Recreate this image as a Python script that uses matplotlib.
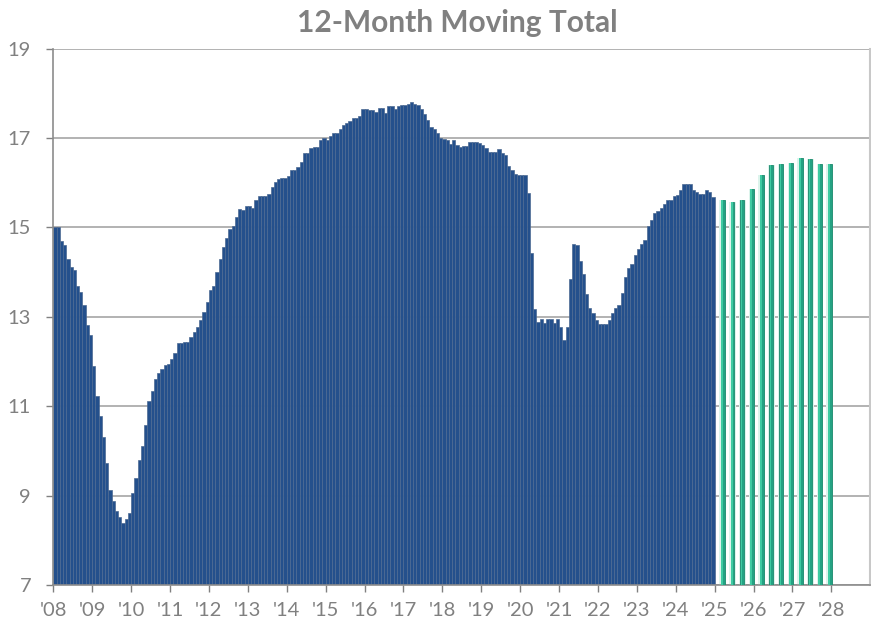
import numpy as np
import pandas as pd
import matplotlib
matplotlib.use("Agg")
import matplotlib.pyplot as plt

# monthly 12-month moving total, Jan 2008 .. Dec 2024
months = pd.period_range("2008-01", "2024-12", freq="M")
moving_total = [
    15.00, 15.00, 14.70, 14.60, 14.29, 14.12, 14.05, 13.68, 13.56, 13.27, 12.82, 12.60,  # 2008
    11.89, 11.22, 10.79, 10.30, 9.72, 9.13, 8.87, 8.65, 8.52, 8.39, 8.47, 8.61,          # 2009
    9.05, 9.39, 9.79, 10.10, 10.57, 11.11, 11.33, 11.61, 11.74, 11.84, 11.92, 11.94,     # 2010
    12.06, 12.20, 12.41, 12.42, 12.44, 12.44, 12.55, 12.66, 12.78, 12.93, 13.11, 13.33,  # 2011
    13.59, 13.68, 14.00, 14.30, 14.56, 14.76, 14.96, 15.02, 15.23, 15.42, 15.39, 15.47,  # 2012
    15.47, 15.44, 15.62, 15.69, 15.71, 15.71, 15.74, 15.90, 16.02, 16.09, 16.10, 16.10,  # 2013
    16.15, 16.28, 16.29, 16.36, 16.46, 16.66, 16.66, 16.77, 16.80, 16.79, 16.96, 16.99,  # 2014
    16.96, 17.04, 17.11, 17.10, 17.20, 17.29, 17.33, 17.37, 17.44, 17.45, 17.48, 17.64,  # 2015
    17.64, 17.62, 17.62, 17.57, 17.67, 17.67, 17.56, 17.71, 17.71, 17.65, 17.71, 17.74,  # 2016
    17.74, 17.76, 17.80, 17.76, 17.74, 17.65, 17.54, 17.39, 17.25, 17.19, 17.11, 17.00,  # 2017
    16.98, 16.95, 16.87, 16.95, 16.85, 16.79, 16.81, 16.83, 16.90, 16.90, 16.90, 16.89,  # 2018
    16.84, 16.78, 16.68, 16.68, 16.68, 16.75, 16.67, 16.61, 16.38, 16.29, 16.20, 16.18,  # 2019
    16.18, 16.18, 15.76, 14.43, 13.17, 12.89, 12.96, 12.86, 12.94, 12.96, 12.86, 12.96,  # 2020
    12.77, 12.47, 12.77, 13.84, 14.62, 14.60, 14.24, 13.96, 13.51, 13.20, 13.09, 12.92,  # 2021
    12.83, 12.83, 12.83, 12.92, 13.08, 13.19, 13.26, 13.54, 13.90, 14.09, 14.17, 14.37,  # 2022
    14.52, 14.62, 14.71, 15.02, 15.16, 15.32, 15.37, 15.44, 15.52, 15.62, 15.62, 15.71,  # 2023
    15.72, 15.84, 15.97, 15.97, 15.97, 15.84, 15.80, 15.74, 15.74, 15.84, 15.78, 15.67,  # 2024
]

# quarterly forecast 2025Q1 .. 2027Q4
quarters = pd.period_range("2025Q1", "2027Q4", freq="Q")
forecast = [15.62, 15.57, 15.62, 15.86, 16.16, 16.39, 16.42, 16.44, 16.55, 16.53, 16.42, 16.41]

year_ticks = list(range(2008, 2029))
year_labels = ["'%02d" % (y % 100) for y in year_ticks]
y_ticks = [7, 9, 11, 13, 15, 17, 19]

# decimal-year positions (centre of month / centre of quarter's last month)
x_month = np.array([p.year + (p.month - 0.5) / 12 for p in months])
x_quarter = np.array([p.qyear + (p.quarter * 3 - 0.5) / 12 for p in quarters])

grey = "#808080"
plt.rcParams["font.family"] = ["Lato", "DejaVu Sans"]

fig = plt.figure(figsize=(8.71, 6.21), dpi=100)
ax = fig.add_axes([0.0612, 0.058, 0.9371, 0.8639])

ax.bar(x_month, np.array(moving_total) - 7, bottom=7, width=1 / 12,
       color="#24508c", edgecolor="#4d6a92", linewidth=0.5, zorder=2)

# forecast bars: soft halo, body, bright left highlight
fc = np.array(forecast) - 7
ax.bar(x_quarter, fc, bottom=7, width=0.17, color="#dcf4ec", linewidth=0, zorder=2)
ax.bar(x_quarter, fc, bottom=7, width=0.10, color="#24a283", edgecolor="#1c8a6d",
       linewidth=0.6, zorder=3)
ax.bar(x_quarter - 0.02, fc, bottom=7, width=0.04, color="#3fcaa2", linewidth=0, zorder=4)

ax.set_xlim(2008, 2028.98)
ax.set_ylim(7, 19)
ax.set_xticks(year_ticks)
ax.set_xticklabels(year_labels)
ax.set_yticks(y_ticks)
ax.tick_params(axis="both", colors=grey, labelsize=14.5, length=5, width=1)
ax.tick_params(axis="y", pad=11)
ax.tick_params(axis="x", pad=7)
ax.grid(axis="y", color="#a6a6a6", linewidth=1.2, zorder=0)
ax.set_axisbelow(True)

for side in ["left", "bottom"]:
    ax.spines[side].set_color("#8c8c8c")
    ax.spines[side].set_linewidth(1.2)
ax.spines["top"].set_visible(False)
ax.spines["right"].set_color("#c8c8c8")
ax.spines["right"].set_linewidth(1.5)

fig.text(0.525, 0.963, "12-Month Moving Total", ha="center", va="center",
         fontsize=21.5, fontweight="bold", color=grey)

fig.savefig("out.png", dpi=100)
